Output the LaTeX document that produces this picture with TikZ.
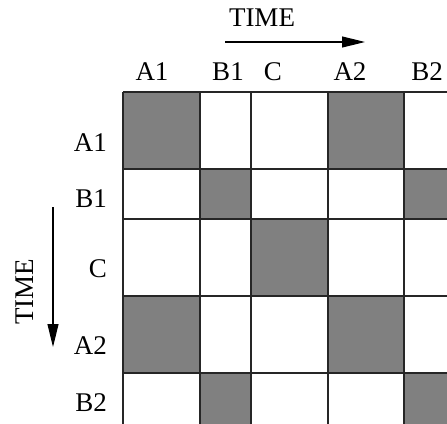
\documentclass[tikz,border=0pt]{standalone}
\usepackage{fontspec}
\setmainfont{Liberation Serif}
\usetikzlibrary{arrows.meta}
\begin{document}
\begin{tikzpicture}[x=1pt,y=-1pt,
  lbl/.style={font=\fontsize{27}{30}\selectfont, inner sep=0pt},
  cell/.style={fill=black!50},
  gridline/.style={line width=1.3pt, draw=black!85},
  timearrow/.style={line width=1.1pt, -{Triangle[length=23pt,width=11pt]}}]
\useasboundingbox (0,0) rectangle (447,423);
\begin{scope}
\clip (0,0) rectangle (447,423);
% shaded cells
\fill[cell] (123,92) rectangle (200,169);
\fill[cell] (328,92) rectangle (404,169);
\fill[cell] (200,169) rectangle (251,219);
\fill[cell] (404,169) rectangle (454,219);
\fill[cell] (251,219) rectangle (328,296);
\fill[cell] (123,296) rectangle (200,373);
\fill[cell] (328,296) rectangle (404,373);
\fill[cell] (200,373) rectangle (251,430);
\fill[cell] (404,373) rectangle (454,430);
% grid lines
\foreach \xx in {123,200,251,328,404} \draw[gridline] (\xx,92) -- (\xx,430);
\foreach \yy in {92,169,219,296,373} \draw[gridline] (123,\yy) -- (460,\yy);
\end{scope}
% top labels
\node[lbl, anchor=base] (tA1) at (152,80) {A1};
\node[lbl, anchor=base] (tB1) at (228,80) {B1};
\node[lbl, anchor=base] (tC) at (273,80) {C};
\node[lbl, anchor=base] (tA2) at (350,80) {A2};
\node[lbl, anchor=base] (tB2) at (427,80) {B2};
% left labels
\node[lbl, anchor=base east] (lA1) at (107,151) {A1};
\node[lbl, anchor=base east] (lB1) at (107,207) {B1};
\node[lbl, anchor=base east] (lC) at (107,277) {C};
\node[lbl, anchor=base east] (lA2) at (107,354) {A2};
\node[lbl, anchor=base east] (lB2) at (107,411) {B2};
% time labels and arrows
\node[lbl, anchor=base] (ttime) at (262,27) {TIME};
\node[lbl, anchor=base, rotate=90] (ltime) at (33,292) {TIME};
\coordinate (ha) at (225,42);
\coordinate (hb) at (365,42);
\coordinate (va) at (53,207);
\coordinate (vb) at (53,347);
\draw[timearrow] (ha) -- (hb);
\draw[timearrow] (va) -- (vb);
\end{tikzpicture}
\end{document}
